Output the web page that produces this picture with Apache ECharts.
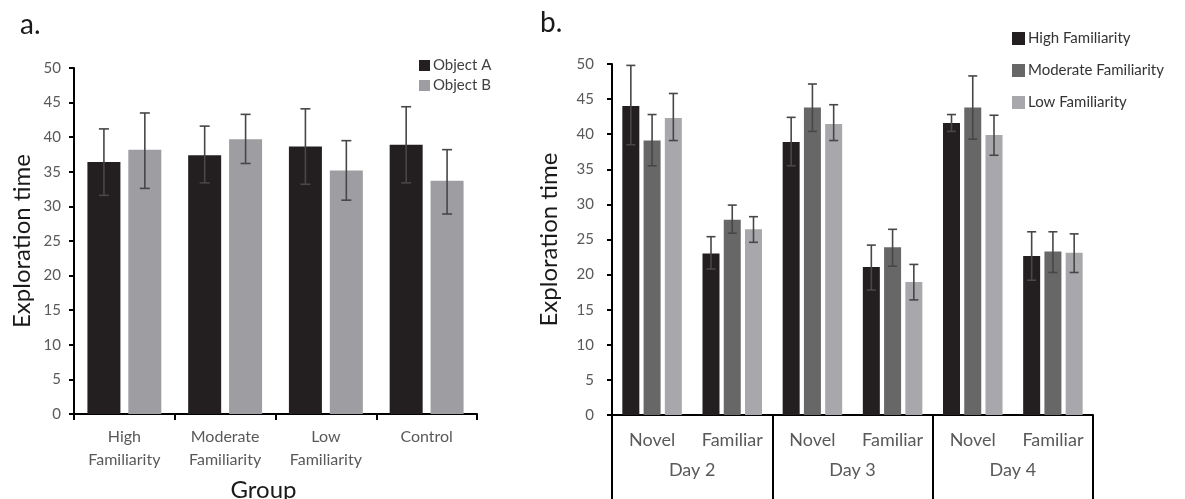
<!DOCTYPE html>
<html>
<head>
<meta charset="utf-8">
<title>Exploration time</title>
<script src="https://cdn.jsdelivr.net/npm/echarts@6/dist/echarts.min.js"></script>
<style>
  html, body { margin: 0; padding: 0; background: #fff; }
  #chart { width: 1185px; height: 499px; }
</style>
</head>
<body>
<div id="chart"></div>
<script>
// panel a data
const groupsA = ['High\nFamiliarity', 'Moderate\nFamiliarity', 'Low\nFamiliarity', 'Control'];
const objectA = [36.4, 37.4, 38.65, 38.9];
const objectAUpper = [41.2, 41.6, 44.1, 44.4];
const objectALower = [31.6, 33.4, 33.2, 33.4];
const objectB = [38.2, 39.7, 35.2, 33.7];
const objectBUpper = [43.5, 43.3, 39.5, 38.2];
const objectBLower = [32.6, 36.2, 30.9, 28.9];

// panel b data
const conditions = ['Novel', 'Familiar', 'Novel', 'Familiar', 'Novel', 'Familiar'];
const days = ['Day 2', 'Day 3', 'Day 4'];
const highFam = [44.0, 23.0, 38.9, 21.1, 41.6, 22.65];
const highFamUpper = [49.8, 25.4, 42.4, 24.2, 42.8, 26.1];
const highFamLower = [38.5, 20.8, 35.5, 17.8, 40.4, 19.2];
const modFam = [39.1, 27.8, 43.8, 23.9, 43.8, 23.3];
const modFamUpper = [42.8, 29.9, 47.15, 26.45, 48.3, 26.1];
const modFamLower = [35.5, 25.9, 40.4, 21.2, 39.3, 20.3];
const lowFam = [42.3, 26.45, 41.45, 18.95, 39.9, 23.1];
const lowFamUpper = [45.8, 28.25, 44.2, 21.45, 42.7, 25.8];
const lowFamLower = [39.1, 24.6, 39.1, 16.4, 37.0, 20.3];

const yTicks = [0, 5, 10, 15, 20, 25, 30, 35, 40, 45, 50];

const FONT = 'Lato, "Open Sans", sans-serif';
const LABEL_COLOR = '#595959';
const ERR_COLOR = '#474747';

const myChart = echarts.init(document.getElementById('chart'));

// bar layout helper: offset of bar i among n bars of width w with gap ratio g
function barOffset(i, n, w, g) {
  const total = n * w + (n - 1) * w * g;
  return -total / 2 + i * w * (1 + g) + w / 2;
}

function errorData(upper, lower) {
  return upper.map((u, i) => [i, lower[i], u]);
}

function errorSeries(name, xIdx, yIdx, upper, lower, offset, cap) {
  return {
    name: name,
    type: 'custom',
    xAxisIndex: xIdx,
    yAxisIndex: yIdx,
    silent: true,
    z: 5,
    data: errorData(upper, lower),
    renderItem: function (params, api) {
      const x = api.coord([api.value(0), 0])[0] + offset;
      const yLo = api.coord([api.value(0), api.value(1)])[1];
      const yHi = api.coord([api.value(0), api.value(2)])[1];
      const style = { stroke: ERR_COLOR, lineWidth: 1.6 };
      return {
        type: 'group',
        children: [
          { type: 'line', shape: { x1: x, y1: yLo, x2: x, y2: yHi }, style: style },
          { type: 'line', shape: { x1: x - cap / 2, y1: yHi, x2: x + cap / 2, y2: yHi }, style: style },
          { type: 'line', shape: { x1: x - cap / 2, y1: yLo, x2: x + cap / 2, y2: yLo }, style: style }
        ]
      };
    }
  };
}

function valueAxis(gridIndex, margin, nameGap) {
  return {
    type: 'value',
    gridIndex: gridIndex,
    min: yTicks[0],
    max: yTicks[yTicks.length - 1],
    interval: 5,
    name: 'Exploration time',
    nameLocation: 'middle',
    nameGap: nameGap,
    nameTextStyle: { fontFamily: FONT, fontSize: 24, color: '#1a1a1a' },
    axisLine: { show: true, lineStyle: { color: '#000', width: 2 } },
    axisTick: { show: true, length: 5, lineStyle: { color: '#000', width: 2 } },
    axisLabel: { fontFamily: FONT, fontSize: 15, color: LABEL_COLOR, margin: margin },
    splitLine: { show: false }
  };
}

const BW_A = 33, GAP_A = 0.24;
const BW_B = 17, GAP_B = 0.25;

const option = {
  animation: false,
  backgroundColor: '#fff',
  textStyle: { fontFamily: FONT },
  title: [
    { text: 'a.', left: 15, top: 6, textStyle: { fontFamily: FONT, fontSize: 28, fontWeight: 'normal', color: '#1a1a1a' } },
    { text: 'b.', left: 535, top: 4, textStyle: { fontFamily: FONT, fontSize: 28, fontWeight: 'normal', color: '#1a1a1a' } }
  ],
  legend: [
    {
      data: ['Object A', 'Object B'],
      orient: 'vertical',
      left: 414,
      top: 53,
      itemWidth: 11,
      itemHeight: 11,
      itemGap: 5,
      icon: 'rect',
      textStyle: { fontFamily: FONT, fontSize: 15, color: '#404040', padding: [0, 0, 0, -2] }
    },
    {
      data: ['High Familiarity', 'Moderate Familiarity', 'Low Familiarity'],
      orient: 'vertical',
      left: 1007,
      top: 26,
      itemWidth: 13,
      itemHeight: 13,
      itemGap: 17,
      icon: 'rect',
      textStyle: { fontFamily: FONT, fontSize: 15, color: '#333', padding: [0, 0, 0, -2] }
    }
  ],
  grid: [
    { left: 74, top: 68, width: 403, height: 346, outerBoundsMode: 'none' },
    { left: 612, top: 64, width: 481, height: 351, outerBoundsMode: 'none' }
  ],
  xAxis: [
    {
      type: 'category',
      gridIndex: 0,
      data: groupsA,
      name: 'Group',
      nameLocation: 'middle',
      nameGap: 64,
      nameTextStyle: { fontFamily: FONT, fontSize: 24, color: '#1a1a1a', padding: [0, 24, 0, 0] },
      axisLine: { lineStyle: { color: '#000', width: 2 } },
      axisTick: { show: true, length: 6, lineStyle: { color: '#000', width: 2 } },
      axisLabel: { fontFamily: FONT, fontSize: 16, color: LABEL_COLOR, margin: 11, lineHeight: 23, interval: 0 }
    },
    {
      type: 'category',
      gridIndex: 1,
      data: conditions,
      axisLine: { lineStyle: { color: '#000', width: 2 } },
      axisTick: { show: false },
      axisLabel: { fontFamily: FONT, fontSize: 18, color: LABEL_COLOR, margin: 16, interval: 0 }
    },
    {
      type: 'category',
      gridIndex: 1,
      position: 'bottom',
      data: days,
      axisLine: { show: false },
      axisTick: { show: true, length: 86, lineStyle: { color: '#000', width: 2 } },
      axisLabel: { fontFamily: FONT, fontSize: 18, color: LABEL_COLOR, margin: 46, interval: 0 }
    }
  ],
  yAxis: [
    valueAxis(0, 13, 40),
    valueAxis(1, 18, 51)
  ],
  series: [
    { name: 'Object A', type: 'bar', xAxisIndex: 0, yAxisIndex: 0, data: objectA, barWidth: BW_A, barGap: GAP_A * 100 + '%', itemStyle: { color: '#231f20' } },
    { name: 'Object B', type: 'bar', xAxisIndex: 0, yAxisIndex: 0, data: objectB, barWidth: BW_A, barGap: GAP_A * 100 + '%', itemStyle: { color: '#9e9ea2' } },
    errorSeries('errA', 0, 0, objectAUpper, objectALower, barOffset(0, 2, BW_A, GAP_A), 10),
    errorSeries('errB', 0, 0, objectBUpper, objectBLower, barOffset(1, 2, BW_A, GAP_A), 10),

    { name: 'High Familiarity', type: 'bar', xAxisIndex: 1, yAxisIndex: 1, data: highFam, barWidth: BW_B, barGap: GAP_B * 100 + '%', itemStyle: { color: '#231f20' } },
    { name: 'Moderate Familiarity', type: 'bar', xAxisIndex: 1, yAxisIndex: 1, data: modFam, barWidth: BW_B, barGap: GAP_B * 100 + '%', itemStyle: { color: '#676767' } },
    { name: 'Low Familiarity', type: 'bar', xAxisIndex: 1, yAxisIndex: 1, data: lowFam, barWidth: BW_B, barGap: GAP_B * 100 + '%', itemStyle: { color: '#a8a8ac' } },
    errorSeries('errHigh', 1, 1, highFamUpper, highFamLower, barOffset(0, 3, BW_B, GAP_B), 9),
    errorSeries('errMod', 1, 1, modFamUpper, modFamLower, barOffset(1, 3, BW_B, GAP_B), 9),
    errorSeries('errLow', 1, 1, lowFamUpper, lowFamLower, barOffset(2, 3, BW_B, GAP_B), 9)
  ]
};

myChart.setOption(option);

window.addEventListener('resize', () => {
  myChart.resize();
});
</script>
</body>
</html>
